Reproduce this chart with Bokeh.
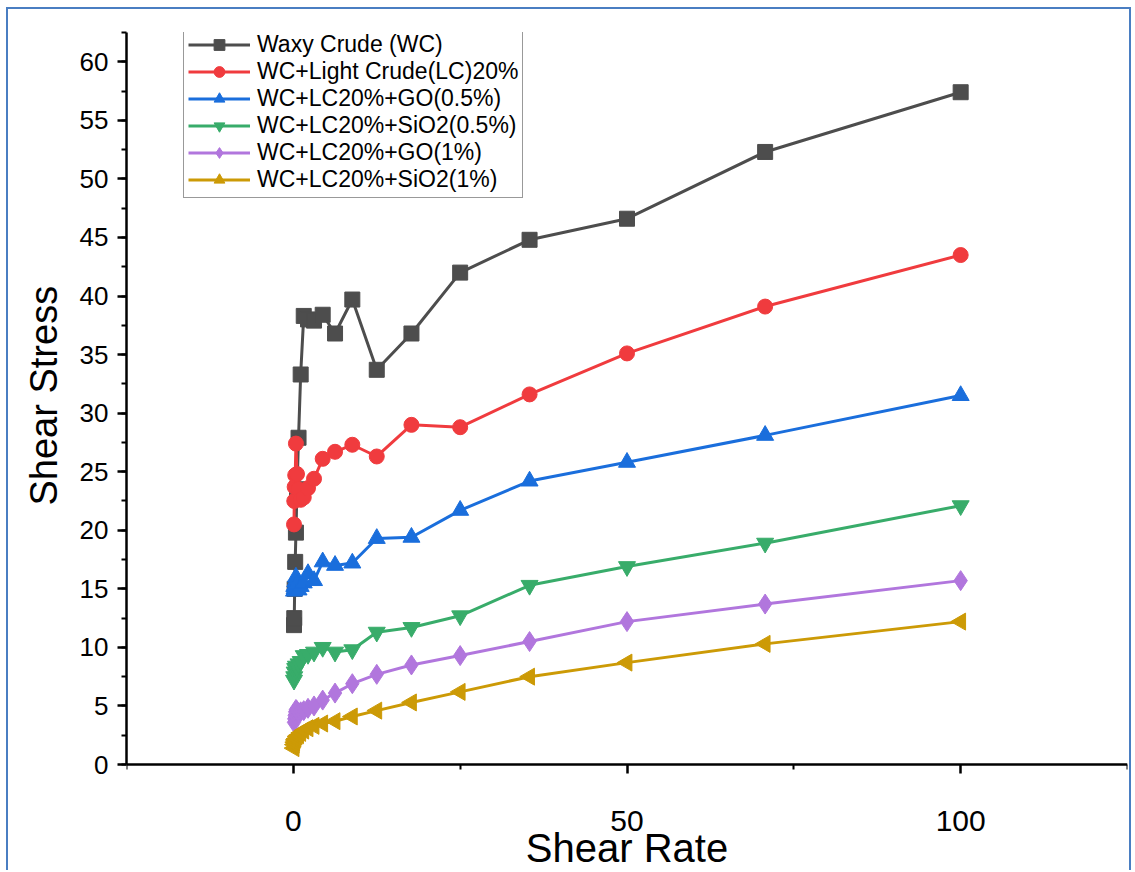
import math
from bokeh.plotting import figure
from bokeh.models import Range1d, FixedTicker, Legend, LegendItem, Title
from bokeh.embed import file_html
from bokeh.resources import INLINE

shear_rate = [0.1, 0.14, 0.2, 0.28, 0.39, 0.55, 0.78, 1.1, 1.56, 2.2, 3.1, 4.4,
              6.25, 8.84, 12.5, 17.7, 25, 35.4, 50, 70.7, 100]

wc = [11.9, 12.5, 15.0, 17.3, 19.8, 23.5, 27.9, 33.3, 38.3, 38.0, 37.9, 38.4,
      36.8, 39.7, 33.7, 36.8, 42.0, 44.8, 46.6, 52.3, 57.4]
wc_lc = [20.5, 22.5, 23.7, 24.7, 27.4, 24.8, 23.5, 22.6, 22.8, 23.6, 24.4, 26.1,
         26.7, 27.3, 26.3, 29.0, 28.8, 31.6, 35.1, 39.1, 43.5]
go_05 = [14.8, 15.2, 15.0, 15.6, 16.0, 15.4, 14.9, 15.2, 15.5, 16.3, 15.7, 17.3,
         17.0, 17.2, 19.3, 19.4, 21.7, 24.2, 25.8, 28.1, 31.5]
sio2_05 = [7.2, 7.5, 7.9, 8.2, 8.4, 8.3, 8.6, 8.8, 9.3, 9.4, 9.6, 10.0,
           9.6, 9.8, 11.3, 11.7, 12.7, 15.3, 16.9, 18.9, 22.1]
go_1 = [3.6, 3.9, 4.2, 4.5, 4.7, 4.6, 4.4, 4.5, 4.6, 4.8, 5.0, 5.5,
        6.1, 6.9, 7.7, 8.5, 9.3, 10.5, 12.2, 13.7, 15.7]
sio2_1 = [1.4, 1.7, 1.9, 2.1, 2.2, 2.4, 2.5, 2.7, 2.9, 3.1, 3.3, 3.5,
          3.7, 4.1, 4.6, 5.3, 6.2, 7.5, 8.7, 10.3, 12.2]

labels = ["Waxy Crude (WC)", "WC+Light Crude(LC)20%", "WC+LC20%+GO(0.5%)",
          "WC+LC20%+SiO2(0.5%)", "WC+LC20%+GO(1%)", "WC+LC20%+SiO2(1%)"]
series = [wc, wc_lc, go_05, sio2_05, go_1, sio2_1]
colors = ["#4D4D4D", "#F03B3E", "#1A6EDC", "#38AC6A", "#B176DD", "#CC9A06"]
markers = ["square", "circle", "triangle", "inverted_triangle", "diamond", "triangle"]
sizes = [15, 15, 17, 17, 20, 17]
angles = [0, 0, 0, 0, 0, math.pi / 2]

FONT = "Liberation Sans"

# y range extends below 0 so the x axis (fixed at y=0) and its titles fit in the frame
p = figure(width=1125, height=863, x_range=Range1d(-25, 125), y_range=Range1d(-9.22, 62.5),
           output_backend="svg", toolbar_location=None,
           min_border_left=118, min_border_right=6, min_border_top=23, min_border_bottom=0)
p.styles = {"border-left": "2px solid #4A7EC2", "border-top": "2px solid #4A7EC2",
            "border-right": "2px solid #4A7EC2", "margin-left": "6px", "margin-top": "7px"}
p.outline_line_color = None
p.xgrid.visible = False
p.ygrid.visible = False
p.background_fill_color = "white"
p.border_fill_color = "white"

items = []
for lab, ys, col, mk, sz, ang in zip(labels, series, colors, markers, sizes, angles):
    r1 = p.line(shear_rate, ys, line_color=col, line_width=3)
    r2 = p.scatter(shear_rate, ys, marker=mk, size=sz, angle=ang,
                   fill_color=col, line_color=col)
    items.append(LegendItem(label=lab, renderers=[r1, r2]))

legend = Legend(items=items, location=(57, 674))
legend.label_text_font = FONT
legend.label_text_font_size = "23px"
legend.label_text_color = "black"
legend.glyph_width = 62
legend.glyph_height = 27
legend.spacing = 0
legend.padding = 4
legend.margin = 0
legend.label_standoff = 7
legend.label_height = 22
legend.border_line_color = "#333333"
legend.border_line_width = 1
legend.background_fill_alpha = 1
p.add_layout(legend)

for ax in (p.xaxis[0], p.yaxis[0]):
    ax.axis_line_width = 2.5
    ax.axis_line_color = "black"
    ax.major_tick_line_width = 2.5
    ax.minor_tick_line_width = 2
    ax.major_tick_line_color = "black"
    ax.minor_tick_line_color = "black"
    ax.major_tick_in = 0
    ax.major_tick_out = 9
    ax.minor_tick_in = 0
    ax.minor_tick_out = 5
    ax.major_label_text_font = FONT
    ax.major_label_text_color = "black"
    ax.axis_label_text_font = FONT
    ax.axis_label_text_font_style = "normal"
    ax.axis_label_text_color = "black"

p.xaxis.fixed_location = 0
p.yaxis.bounds = (0, 62.5)
p.xaxis.ticker = FixedTicker(ticks=[0, 50, 100], minor_ticks=[-25, 25, 75, 125])
p.yaxis.ticker = FixedTicker(ticks=list(range(0, 61, 5)),
                             minor_ticks=[x * 2.5 for x in range(0, 26)])
p.xaxis.major_label_text_font_size = "30px"
p.yaxis.major_label_text_font_size = "26px"
p.xaxis.major_label_standoff = 37
p.yaxis.major_label_standoff = 9
p.xaxis.axis_label = "Shear Rate"
p.xaxis.axis_label_text_font_size = "40px"
p.xaxis.axis_label_standoff = -8

ytitle = Title(text="Shear Stress", align="left", offset=367, standoff=23,
               text_font=FONT, text_font_size="38px", text_font_style="normal",
               text_color="black")
p.add_layout(ytitle, "left")

open("out.html", "w").write(file_html(p, INLINE))
